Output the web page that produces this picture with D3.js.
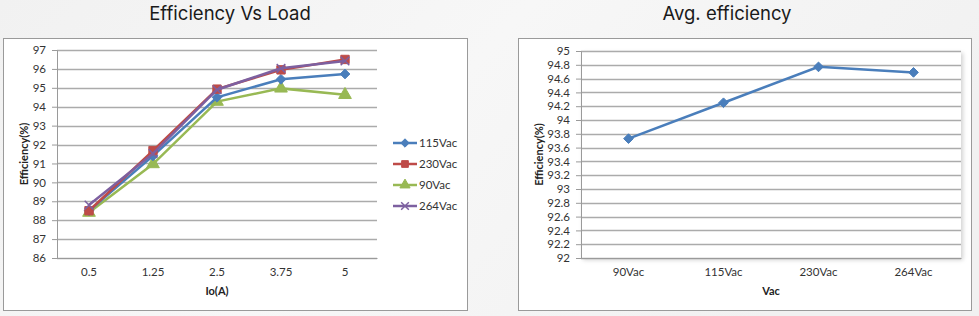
<!DOCTYPE html>
<html><head><meta charset="utf-8">
<script src="https://cdn.jsdelivr.net/npm/d3@7"></script>
<style>
html,body{margin:0;padding:0;}
body{width:979px;height:316px;overflow:hidden;background:#f4f4f4;}
text{font-family:"Lato","Liberation Sans",sans-serif;}
</style></head><body>
<svg id="c" width="979" height="316"></svg>
<script>
// ---- data: left chart ----
const loadCategories = ["0.5","1.25","2.5","3.75","5"];
const s115 = [88.5, 91.4, 94.5, 95.45, 95.73];
const s230 = [88.5, 91.68, 94.93, 95.95, 96.5];
const s90  = [88.4, 90.97, 94.27, 94.97, 94.63];
const s264 = [88.8, 91.52, 94.9, 96.03, 96.42];
const seriesNames = ["115Vac","230Vac","90Vac","264Vac"];
const leftTicks = [86,87,88,89,90,91,92,93,94,95,96,97];
// ---- data: right chart ----
const vacCategories = ["90Vac","115Vac","230Vac","264Vac"];
const avgEff = [93.73, 94.25, 94.77, 94.69];
const rightTicks = [92,92.2,92.4,92.6,92.8,93,93.2,93.4,93.6,93.8,94,94.2,94.4,94.6,94.8,95];

const colors = {"115Vac":"#4a7ebb","230Vac":"#be4b48","90Vac":"#98b954","264Vac":"#7d60a0"};
const shapes = {"115Vac":d3.symbolDiamond2,"230Vac":d3.symbolSquare,"90Vac":d3.symbolTriangle,"264Vac":d3.symbolX};
const svg = d3.select("#c");

// background gradient
const defs = svg.append("defs");
const g0 = defs.append("linearGradient").attr("id","bg").attr("x1","0").attr("y1","0").attr("x2","1").attr("y2","0.3");
g0.append("stop").attr("offset","0").attr("stop-color","#f1f1f1");
g0.append("stop").attr("offset","0.5").attr("stop-color","#f7f7f7");
g0.append("stop").attr("offset","1").attr("stop-color","#f1f1f1");
svg.append("rect").attr("width",979).attr("height",316).attr("fill","url(#bg)");
const sh = defs.append("filter").attr("id","sh").attr("x","-5%").attr("y","-5%").attr("width","112%").attr("height","115%");
sh.append("feDropShadow").attr("dx",2).attr("dy",2).attr("stdDeviation",2).attr("flood-color","#000").attr("flood-opacity",0.18);

function drawChart(o){
  const g = svg.append("g");
  g.append("text").attr("x",o.titleX).attr("y",20).attr("text-anchor","middle")
    .style("font-family","Inter, Roboto, sans-serif").style("font-size","18.5px").attr("fill","#1a1a1a").text(o.title);
  g.append("rect").attr("x",o.box[0]+0.5).attr("y",o.box[1]+0.5).attr("width",o.box[2]-o.box[0]).attr("height",o.box[3]-o.box[1])
    .attr("fill","#fff").attr("stroke","#9a9a9a").attr("stroke-width",1);
  const x = d3.scaleBand().domain(o.cats).range([o.x0,o.x1]);
  const y = d3.scaleLinear().domain([o.ticks[0],o.ticks[o.ticks.length-1]]).range([o.y1,o.y0]);
  if(o.shadow){
    g.append("rect").attr("x",o.x0).attr("y",o.y0).attr("width",o.x1-o.x0).attr("height",o.y1-o.y0)
      .attr("fill","#fff").attr("filter","url(#sh)");
  }
  // gridlines
  g.append("g").selectAll("line").data(o.ticks).join("line")
    .attr("x1",o.x0).attr("x2",o.x1).attr("y1",d=>Math.round(y(d))+0.5).attr("y2",d=>Math.round(y(d))+0.5)
    .attr("stroke","#ababab").attr("stroke-width",1.3);
  // y axis
  const ya = g.append("g").attr("transform",`translate(${o.x0},0)`)
    .call(d3.axisLeft(y).tickValues(o.ticks).tickSize(5).tickPadding(6).tickFormat(d=>String(+d.toFixed(1))));
  ya.select(".domain").attr("stroke","#9a9a9a");
  ya.selectAll(".tick line").attr("stroke","#9a9a9a");
  ya.selectAll("text").style("font-size","11.5px").attr("fill","#333");
  // x axis labels
  const xa = g.append("g").attr("transform",`translate(0,${o.y1})`)
    .call(d3.axisBottom(x).tickSize(0).tickPadding(10));
  xa.select(".domain").attr("stroke","#9a9a9a");
  xa.selectAll("text").style("font-size","11.5px").attr("fill","#333");
  // titles
  g.append("text").attr("x",(o.x0+o.x1)/2).attr("y",o.y1+37).attr("text-anchor","middle")
    .style("font-size","11px").style("font-weight","bold").attr("fill","#222").text(o.xTitle);
  g.append("text").attr("transform",`translate(${o.yTitleX},${(o.y0+o.y1)/2}) rotate(-90)`).attr("text-anchor","middle")
    .style("font-size","11px").style("font-weight","bold").attr("fill","#222").text("Efficiency(%)");
  return {g,x,y};
}

// ---- left chart ----
const L = drawChart({title:"Efficiency Vs Load",titleX:230,box:[3,38,467,310],x0:57,x1:377,y0:50,y1:258,
  cats:loadCategories,ticks:leftTicks,xTitle:"Io(A)",yTitleX:28});
const leftSeries = {"115Vac":s115,"230Vac":s230,"90Vac":s90,"264Vac":s264};
const drawOrder = ["90Vac","115Vac","230Vac","264Vac"];
const line = d3.line();
drawOrder.forEach(name=>{
  const vals = leftSeries[name];
  const pts = vals.map((v,i)=>[L.x(loadCategories[i])+L.x.bandwidth()/2, L.y(v)]);
  L.g.append("path").attr("d",line(pts)).attr("fill","none").attr("stroke",colors[name]).attr("stroke-width",2.5);
  const sz = name==="264Vac"?50:(name==="115Vac"?60:70);
  L.g.append("g").selectAll("path").data(pts).join("path")
    .attr("transform",d=>`translate(${d[0]},${d[1]})`)
    .attr("d",d3.symbol().type(shapes[name]).size(sz))
    .attr("fill",name==="264Vac"?"none":colors[name]).attr("stroke",colors[name]).attr("stroke-width",name==="264Vac"?1.5:1);
});
// legend
seriesNames.forEach((name,i)=>{
  const ly = 143 + i*21;
  const lg = L.g.append("g");
  lg.append("line").attr("x1",393).attr("x2",417).attr("y1",ly).attr("y2",ly).attr("stroke",colors[name]).attr("stroke-width",2.5);
  lg.append("path").attr("transform",`translate(405,${ly})`).attr("d",d3.symbol().type(shapes[name]).size(name==="264Vac"?40:45))
    .attr("fill",name==="264Vac"?"none":colors[name]).attr("stroke",colors[name]).attr("stroke-width",name==="264Vac"?1.5:1);
  lg.append("text").attr("x",419).attr("y",ly+4).style("font-size","11.5px").attr("fill","#333").text(name);
});

// ---- right chart ----
const R = drawChart({title:"Avg. efficiency",titleX:727,box:[518,38,971,310],x0:581,x1:961,y0:51,y1:258,
  cats:vacCategories,ticks:rightTicks,xTitle:"Vac",yTitleX:543,shadow:true});
const rpts = avgEff.map((v,i)=>[R.x(vacCategories[i])+R.x.bandwidth()/2, R.y(v)]);
R.g.append("path").attr("d",line(rpts)).attr("fill","none").attr("stroke","#4a7ebb").attr("stroke-width",2.5);
R.g.append("g").selectAll("path").data(rpts).join("path")
  .attr("transform",d=>`translate(${d[0]},${d[1]})`)
  .attr("d",d3.symbol().type(d3.symbolDiamond2).size(60))
  .attr("fill","#4a7ebb").attr("stroke","#4a7ebb");
</script>
</body></html>
